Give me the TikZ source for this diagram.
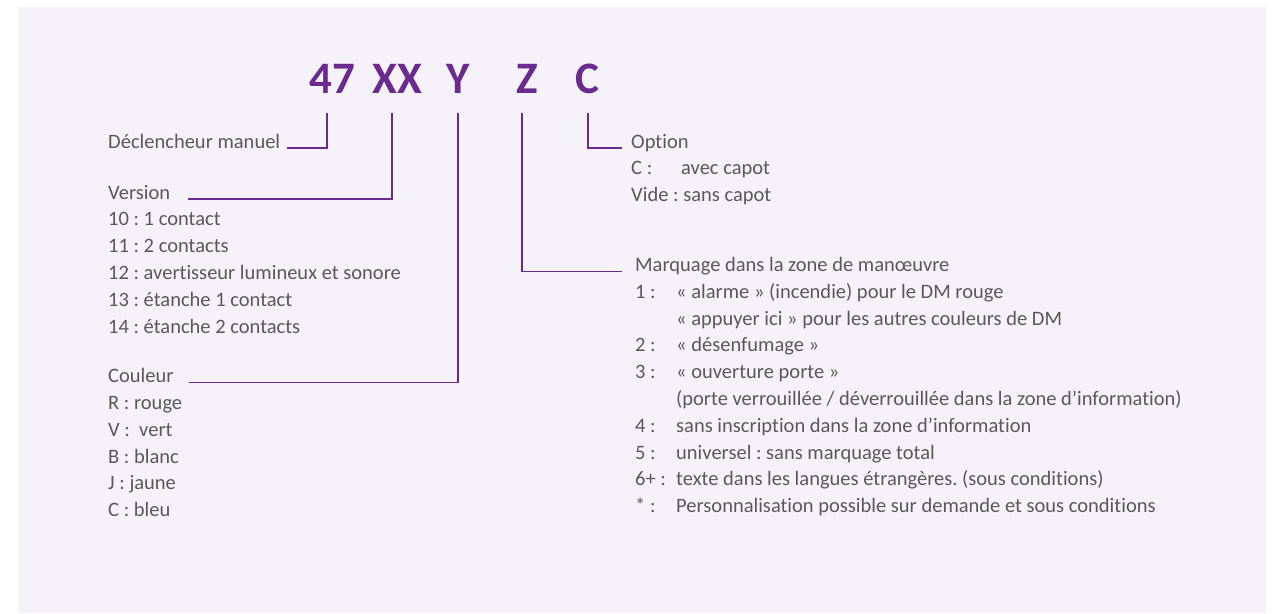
\documentclass[tikz,border=0pt]{standalone}
\usepackage{fontspec}
\setmainfont{Carlito}[Ligatures=NoCommon]
\usepackage{xcolor}
\definecolor{codepurple}{HTML}{6A2A8E}
\definecolor{textgray}{HTML}{595959}
\definecolor{panel}{HTML}{F5F3F9}
\usepackage{tikz}
\usetikzlibrary{positioning}
\frenchspacing

\begin{document}
\begin{tikzpicture}[
    x=1pt, y=-1pt,
    code/.style={anchor=base, inner sep=0pt, text=codepurple,
        font=\fontsize{45}{45}\selectfont\bfseries},
    head/.style={anchor=base west, inner sep=0pt, text=textgray,
        font=\fontsize{20.5}{26.8}\selectfont},
    lead/.style={draw=codepurple, line width=1.2pt}
]
\useasboundingbox (0,0) rectangle (1276,613);
\fill[panel] (18,7) rectangle (1266,613);

% reference code
\node[code] (c47) at (332,93) {47};
\node[code] (cXX) at (397,93) {XX};
\node[code] (cY) at (458,93) {Y};
\node[code] (cZ) at (527,93) {Z};
\node[code] (cC) at (587,93) {C};

% headings
\node[head] (decl) at (108,148) {Déclencheur manuel};
\node[head] (vers) at (108,199) {Version};
\node[head] (coul) at (108,382.7) {Couleur};
\node[head] (opt) at (631,148) {Option};
\node[head] (marq) at (635,271.5) {Marquage dans la zone de manœuvre};

% lists
\foreach \t [count=\i] in {10 : 1 contact, 11 : 2 contacts,
    12 : avertisseur lumineux et sonore, 13 : étanche 1 contact,
    14 : étanche 2 contacts}
  \node[head] (v\i) at (108,199+26.8*\i) {\t};

\foreach \t [count=\i] in {R : rouge, V :~ vert, B : blanc, J :~jaune, C : bleu}
  \node[head] (k\i) at (108,382.7+26.8*\i) {\t};

\node[head] (o1) at (631,174.8) {\makebox[50pt][l]{C :}avec capot};
\node[head] (o2) at (631,201.6) {Vide : sans capot};

\foreach \k/\t [count=\i] in {
    1 :/« alarme » (incendie) pour le DM rouge,
    /« appuyer ici » pour les autres couleurs de DM,
    2 :/« désenfumage »,
    3 :/« ouverture porte »,
    /{(porte verrouillée / déverrouillée dans la zone d’information)},
    4 :/sans inscription dans la zone d’information,
    5 :/universel : sans marquage total,
    6+ :/texte dans les langues étrangères. (sous conditions),
    * :/Personnalisation possible sur demande et sous conditions}
  \node[head] (m\i) at (635,271.5+26.8*\i) {\makebox[41pt][l]{\k}\t};

% leaders
\coordinate (s47) at (327,113);
\coordinate (sXX) at (392,113);
\coordinate (sY) at (458,113);
\coordinate (sZ) at (522,113);
\coordinate (sC) at (588,113);

\draw[lead] (s47) |- ([xshift=7pt]decl.base east);
\draw[lead] (sXX) |- ([xshift=18pt]vers.base east);
\draw[lead] (sY) |- ([xshift=15pt]coul.base east);
\draw[lead] (sZ) |- ([xshift=-13pt]marq.base west);
\draw[lead] (sC) |- ([xshift=-9pt]opt.base west);
\end{tikzpicture}
\end{document}
